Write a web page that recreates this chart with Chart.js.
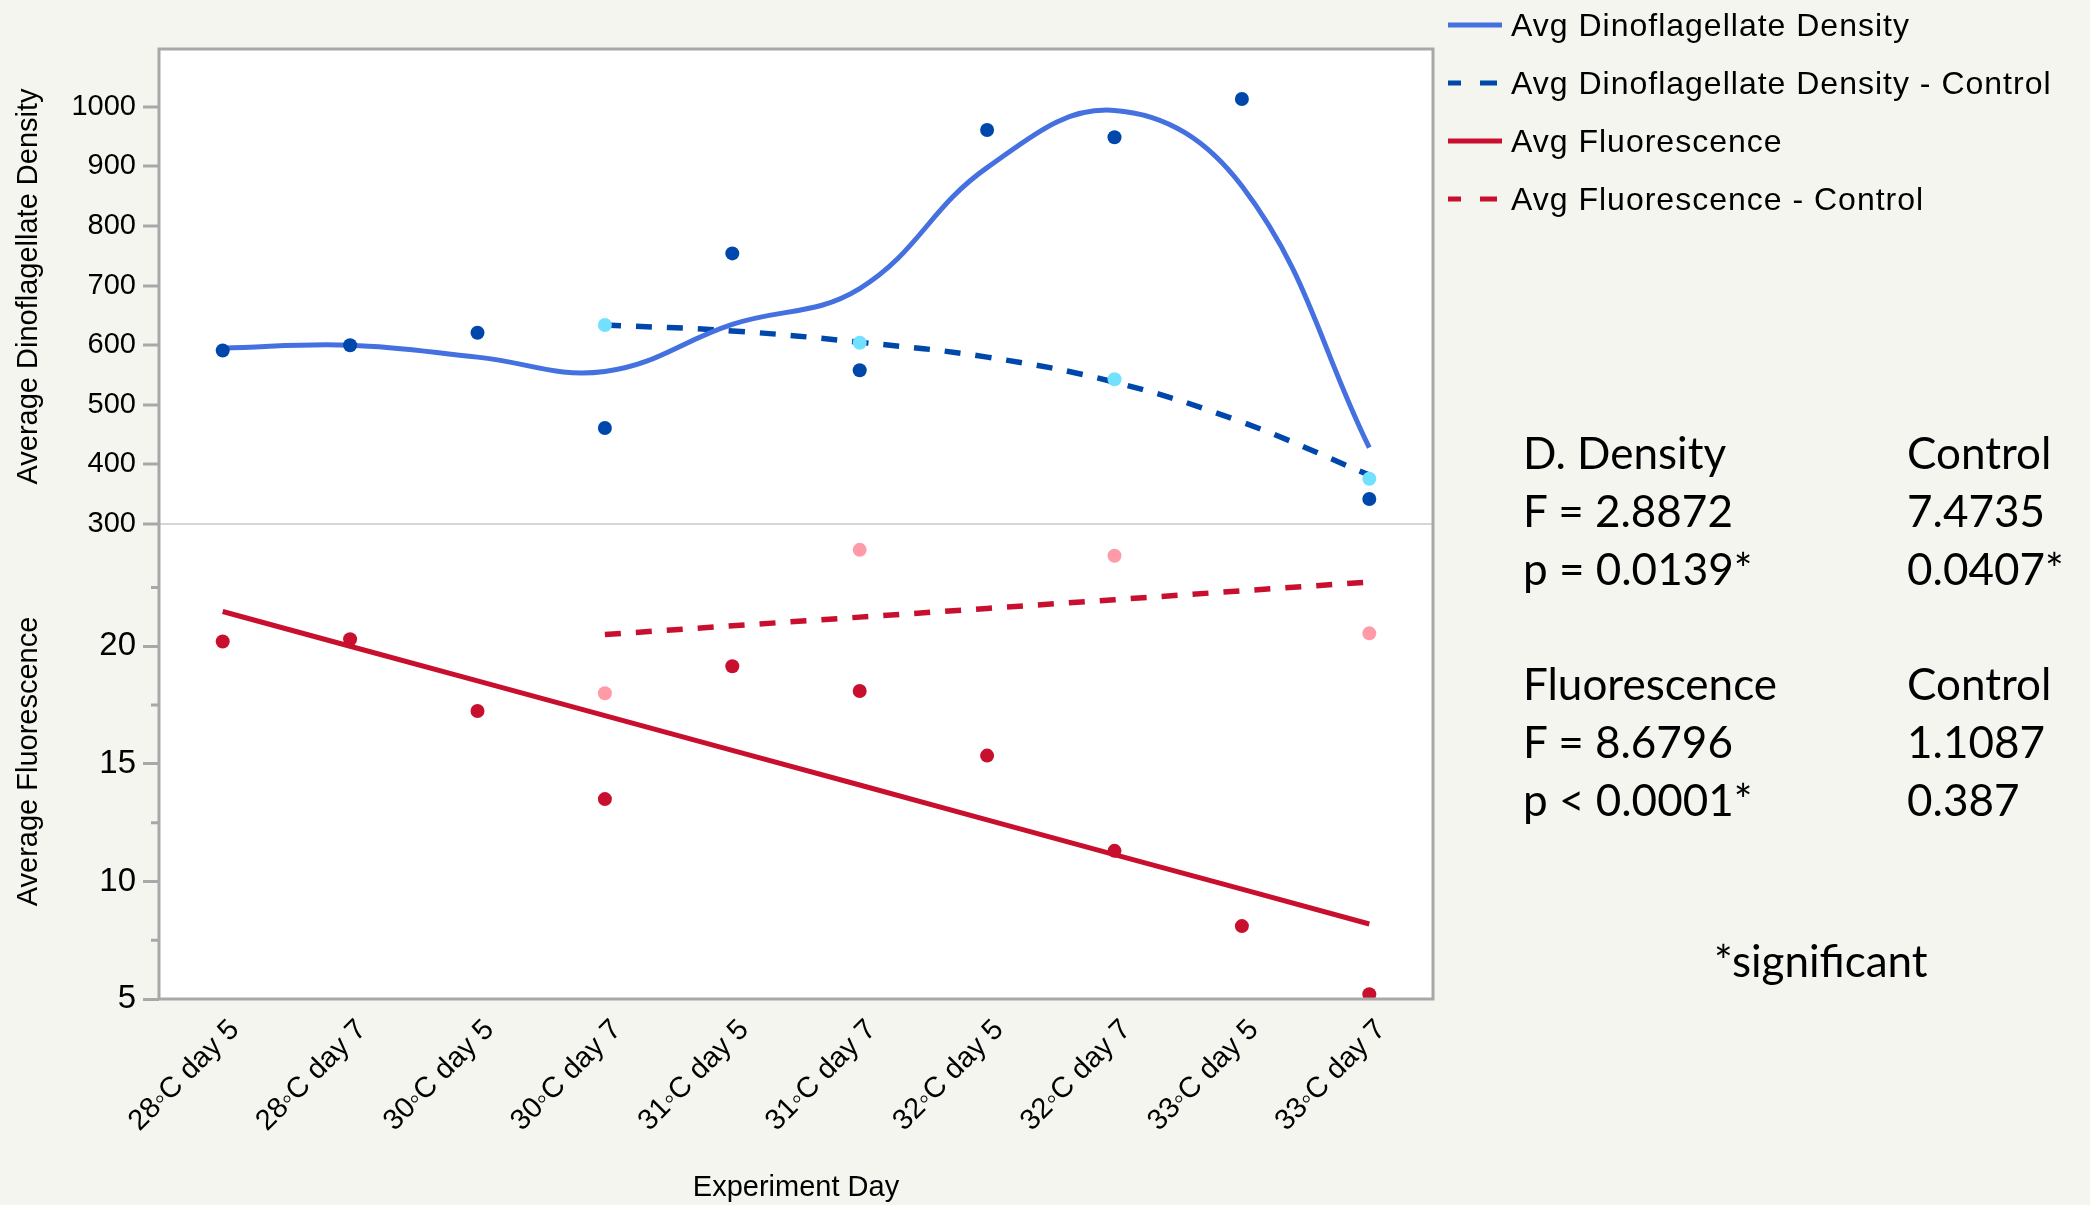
<!DOCTYPE html>
<html>
<head>
<meta charset="utf-8">
<script src="https://cdn.jsdelivr.net/npm/chart.js@4.4.1/dist/chart.umd.min.js"></script>
<style>
  body { margin: 0; background: #F5F5F0; }
  #wrap { position: relative; width: 2090px; height: 1205px; overflow: hidden; }
  #chart { position: absolute; left: 0; top: 0; }
  #legend { position: absolute; left: 1448px; top: -4px; font-family: 'Liberation Sans', Arial, sans-serif; font-size: 32px; letter-spacing: 1px; color: #000; }
  #legend .item { display: flex; align-items: center; height: 58px; line-height: 58px; white-space: nowrap; }
  #legend svg { margin-right: 9px; flex: none; }
  .stats { position: absolute; font-family: Lato, 'Open Sans', sans-serif; font-size: 44px; color: #000; }
  .stats .row { position: relative; height: 58px; line-height: 58px; white-space: nowrap; }
  .stats .c2 { position: absolute; left: 384px; top: 0; }
</style>
</head>
<body>
<div id="wrap">
  <canvas id="chart" width="2090" height="1205"></canvas>
  <div id="legend"></div>
  <div class="stats" style="left:1523px; top:423px">
    <div class="row"><span>D. Density</span><span class="c2">Control</span></div>
    <div class="row"><span>F = 2.8872</span><span class="c2">7.4735</span></div>
    <div class="row"><span>p = 0.0139*</span><span class="c2">0.0407*</span></div>
  </div>
  <div class="stats" style="left:1523px; top:654px">
    <div class="row"><span>Fluorescence</span><span class="c2">Control</span></div>
    <div class="row"><span>F = 8.6796</span><span class="c2">1.1087</span></div>
    <div class="row"><span>p &lt; 0.0001*</span><span class="c2">0.387</span></div>
  </div>
  <div class="stats" style="left:1714px; top:931px">
    <div class="row"><span>*significant</span></div>
  </div>
</div>
<script>
// categories
var days = ['28◦C day 5', '28◦C day 7', '30◦C day 5', '30◦C day 7', '31◦C day 5',
            '31◦C day 7', '32◦C day 5', '32◦C day 7', '33◦C day 5', '33◦C day 7'];

// dinoflagellate density (top panel)
var densityAvg = [591, 600, 621, 461, 754, 558, 961, 949, 1013, 342];
var densityControl = [null, null, null, 634, null, 604, null, 543, null, 376];
var densityFit = [595, 600, 580, 556, 635, 695, 898, 994, 867, 428];
var densityControlFit = [null, null, null, 634, 624, 605, 580, 538, 471, 382];

// fluorescence (bottom panel)
var fluorAvg = [20.2, 20.3, 17.25, 13.5, 19.15, 18.1, 15.35, 11.3, 8.1, 5.2];
var fluorControl = [null, null, null, 18.0, null, 24.1, null, 23.85, null, 20.55];
var fluorFit = [21.48, 20.0, 18.53, 17.05, 15.57, 14.1, 12.62, 11.14, 9.67, 8.19];
var fluorControlFit = [null, null, null, 20.5, 20.87, 21.24, 21.61, 21.98, 22.36, 22.73];

// tick labels
var densityTicks = [300, 400, 500, 600, 700, 800, 900, 1000];
var fluorTicks = [5, 10, 15, 20];
var fluorMinorTicks = [7.5, 12.5, 17.5, 22.5];

var blueLine = '#4571E0';
var bluePoint = '#0047AB';
var cyanPoint = '#72E0FF';
var red = '#C8102E';
var pink = '#FF9BA6';
var frameGray = '#A8A8A8';

Chart.defaults.font.family = "'Liberation Sans', Arial, sans-serif";
Chart.defaults.color = '#000';

// white plot area, grey frame and the short minor ticks on the fluorescence axis
var framePlugin = {
  id: 'frame',
  beforeDraw: function(chart) {
    var a = chart.chartArea, ctx = chart.ctx;
    ctx.save();
    ctx.fillStyle = '#fff';
    ctx.fillRect(a.left, a.top, a.right - a.left, a.bottom - a.top);
    ctx.restore();
  },
  afterDraw: function(chart) {
    var a = chart.chartArea, ctx = chart.ctx;
    ctx.save();
    ctx.strokeStyle = frameGray;
    ctx.lineWidth = 3;
    ctx.strokeRect(a.left, a.top, a.right - a.left, a.bottom - a.top);
    var yF = chart.scales.yF;
    ctx.beginPath();
    fluorMinorTicks.forEach(function(v) {
      var py = yF.getPixelForValue(v);
      ctx.moveTo(a.left - 8, py);
      ctx.lineTo(a.left, py);
    });
    ctx.stroke();
    ctx.restore();
  }
};

var ctx = document.getElementById('chart').getContext('2d');
var chart = new Chart(ctx, {
  type: 'line',
  data: {
    labels: days,
    datasets: [
      { label: 'Avg Dinoflagellate Density', data: densityFit, yAxisID: 'yD',
        borderColor: blueLine, borderWidth: 5, tension: 0.4, pointRadius: 0, order: 2 },
      { label: 'Avg Dinoflagellate Density - Control', data: densityControlFit, yAxisID: 'yD',
        borderColor: bluePoint, borderWidth: 5.5, borderDash: [16, 15], tension: 0.4, pointRadius: 0, order: 2 },
      { label: 'Avg Fluorescence', data: fluorFit, yAxisID: 'yF',
        borderColor: red, borderWidth: 5, tension: 0, pointRadius: 0, order: 2 },
      { label: 'Avg Fluorescence - Control', data: fluorControlFit, yAxisID: 'yF',
        borderColor: red, borderWidth: 5.5, borderDash: [16, 15], tension: 0, pointRadius: 0, order: 2 },
      { label: 'density', data: densityAvg, yAxisID: 'yD', showLine: false,
        pointRadius: 7, pointBackgroundColor: bluePoint, pointBorderWidth: 0, order: 1 },
      { label: 'density control', data: densityControl, yAxisID: 'yD', showLine: false,
        pointRadius: 7, pointBackgroundColor: cyanPoint, pointBorderWidth: 0, order: 1 },
      { label: 'fluorescence', data: fluorAvg, yAxisID: 'yF', showLine: false,
        pointRadius: 7, pointBackgroundColor: red, pointBorderWidth: 0, order: 1 },
      { label: 'fluorescence control', data: fluorControl, yAxisID: 'yF', showLine: false,
        pointRadius: 7, pointBackgroundColor: pink, pointBorderWidth: 0, order: 1 }
    ]
  },
  options: {
    responsive: false,
    animation: false,
    layout: { padding: { top: 49, right: 657, bottom: 0, left: 0 } },
    plugins: { legend: { display: false }, tooltip: { enabled: false } },
    scales: {
      x: {
        type: 'category',
        offset: true,
        grid: { display: false, drawTicks: false },
        border: { display: false },
        ticks: { font: { size: 29 }, color: '#000', minRotation: 45, maxRotation: 45,
                 autoSkip: false, padding: 14, labelOffset: 12 },
        title: { display: true, text: 'Experiment Day', font: { size: 29 }, color: '#000',
                 padding: { top: 0, bottom: 0 } },
        afterFit: function(s) { s.height = 206; }
      },
      // stacked left axes: the later one in this object ends up on top
      yF: {
        type: 'linear', position: 'left', stack: 'panels', stackWeight: 1,
        min: 5, max: 25.2,
        afterFit: function(s) { s.width = 159; },
        afterBuildTicks: function(s) { s.ticks = fluorTicks.map(function(v) { return { value: v }; }); },
        ticks: { font: { size: 33 }, color: '#000', padding: 7, callback: function(v) { return String(v); } },
        grid: { drawOnChartArea: false, tickColor: frameGray, tickWidth: 3, tickLength: 16 },
        border: { display: false },
        title: { display: true, text: 'Average Fluorescence', font: { size: 29 }, color: '#000',
                 padding: { top: 12, bottom: 0 } }
      },
      yD: {
        type: 'linear', position: 'left', stack: 'panels', stackWeight: 1,
        min: 300, max: 1097,
        afterFit: function(s) { s.width = 159; },
        afterBuildTicks: function(s) { s.ticks = densityTicks.map(function(v) { return { value: v }; }); },
        ticks: { font: { size: 29 }, color: '#000', padding: 7, callback: function(v) { return String(v); } },
        grid: {
          color: function(c) { return c.tick && c.tick.value === 300 ? '#D6D6D6' : 'rgba(0,0,0,0)'; },
          lineWidth: 2, tickColor: frameGray, tickWidth: 3, tickLength: 16
        },
        border: { display: false },
        title: { display: true, text: 'Average Dinoflagellate Density', font: { size: 29 }, color: '#000',
                 padding: { top: 12, bottom: 0 } }
      }
    }
  },
  plugins: [framePlugin]
});

// legend built from the chart's own legend items (fit lines only)
var legendEl = document.getElementById('legend');
var items = Chart.defaults.plugins.legend.labels.generateLabels(chart).filter(function(it) {
  return it.datasetIndex < 4;
});
items.forEach(function(it) {
  var row = document.createElement('div');
  row.className = 'item';
  var dash = it.lineDash && it.lineDash.length ? ' stroke-dasharray="13 19 17 100"' : '';
  row.innerHTML = '<svg width="54" height="8"><line x1="0" y1="4" x2="54" y2="4" stroke="' +
    it.strokeStyle + '" stroke-width="5"' + dash + '/></svg><span>' + it.text + '</span>';
  legendEl.appendChild(row);
});
</script>
</body>
</html>
